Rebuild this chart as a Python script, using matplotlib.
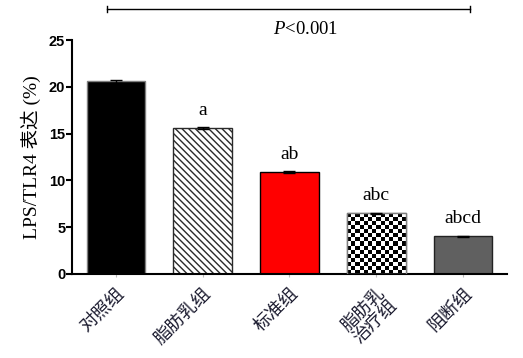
import numpy as np
import matplotlib
matplotlib.use("Agg")
import matplotlib.pyplot as plt
from matplotlib.patches import Rectangle

groups = ["对照组", "脂肪乳组", "标准组", "脂肪乳\n治疗组", "阻断组"]
values = [20.6, 15.6, 10.9, 6.5, 4.0]
errors = [0.15, 0.1, 0.1, 0.05, 0.1]
letters = ["", "a", "ab", "abc", "abcd"]
fills = ["black", "white", "#ff0000", "white", "#606060"]
edges = ["#7f7f7f", "#2a2a2a", "black", "#7f7f7f", "#222222"]
hatches = [None, "\\" * 5, None, None, None]
yticks = [0, 5, 10, 15, 20, 25]

serif_cjk = ["Liberation Serif", "Noto Sans CJK SC"]
plt.rcParams["hatch.linewidth"] = 1.0
plt.rcParams["mathtext.fontset"] = "custom"
plt.rcParams["mathtext.it"] = "Liberation Serif:italic"
plt.rcParams["mathtext.rm"] = "Liberation Serif"

fig = plt.figure(figsize=(5.23, 3.58), dpi=100)
ax = fig.add_axes([0.138, 0.235, 0.831, 0.653])

x = np.arange(len(groups))
bars = ax.bar(x, values, width=0.67, color=fills, edgecolor=edges,
              linewidth=1.0, zorder=2)
for b, h in zip(bars, hatches):
    if h:
        b.set_hatch(h)

ax.errorbar(x, values, yerr=errors, fmt="none", ecolor="black",
            elinewidth=1, capsize=4, capthick=1, zorder=3)

# checkerboard fill for the 4th bar
cb = bars[3]
bx0, by0 = cb.get_x(), cb.get_y()
bw, bh = cb.get_width(), cb.get_height()
nx, ny = 14, 15
board = (np.indices((ny, nx)).sum(axis=0) % 2).astype(float)
img = ax.imshow(board, cmap="gray", interpolation="nearest",
                extent=[bx0, bx0 + bw, by0, by0 + bh], aspect="auto",
                zorder=2.5)
img.set_clip_path(cb)
ax.add_patch(Rectangle((bx0, by0), bw, bh, fill=False,
                       edgecolor=edges[3], linewidth=1.0, zorder=2.6))

for xi, v, lab in zip(x, values, letters):
    if lab:
        ax.text(xi, v + 1.0, lab, ha="center", va="bottom",
                fontsize=14, family="Liberation Serif")

ax.set_xlim(-0.5, 4.5)
ax.set_ylim(0, 25)
ax.set_yticks(yticks)
ax.set_yticklabels([str(t) for t in yticks], fontsize=10.5,
                   fontweight="bold", family="Liberation Sans")
ax.set_xticks(x)
ax.set_xticklabels(groups, rotation=45, ha="right", rotation_mode="anchor",
                   fontsize=13, family=serif_cjk, color="#1c1c30",
                   linespacing=1.0)
ax.tick_params(axis="x", length=2, color="#bbbbbb", pad=6)
ax.tick_params(axis="y", length=4, width=1.5, pad=1)

for s in ["top", "right"]:
    ax.spines[s].set_visible(False)
ax.spines["left"].set_linewidth(1.5)
ax.spines["bottom"].set_linewidth(1.5)

ax.set_ylabel("LPS/TLR4 表达 (%)", fontsize=14, family=serif_cjk, labelpad=6)

# significance bracket across the top
ax.plot([-0.1, 4.08], [28.3, 28.3], color="black", lw=1, clip_on=False)
ax.plot([-0.1, -0.1], [28.0, 28.6], color="black", lw=1, clip_on=False)
ax.plot([4.08, 4.08], [28.0, 28.6], color="black", lw=1, clip_on=False)
ax.text(2.18, 26.1, "$P$<0.001", ha="center", va="center", fontsize=13.5,
        family="Liberation Serif", clip_on=False)

fig.savefig("out.png", dpi=100)
